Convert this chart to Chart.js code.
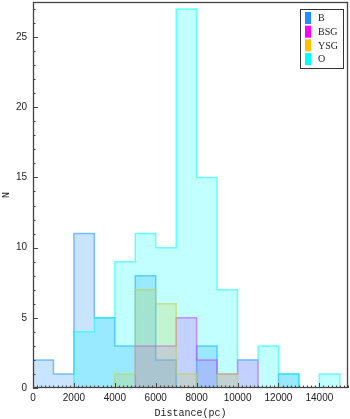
<!DOCTYPE html>
<html>
<head>
<meta charset="utf-8">
<script src="https://cdn.jsdelivr.net/npm/chart.js@4.4.1/dist/chart.umd.min.js"></script>
<style>
  html, body { margin: 0; padding: 0; background: #fff; }
  #wrap { width: 350px; height: 419px; }
</style>
</head>
<body>
<div id="wrap"><canvas id="histChart" width="350" height="419"></canvas></div>
<script>
// bin edges (pc) and counts per class
const binEdges = [0, 1000, 2000, 3000, 4000, 5000, 6000, 7000, 8000, 9000, 10000, 11000, 12000, 13000, 14000, 15000];
const countsB   = [2, 1, 11, 5, 3, 8, 2, 0, 3, 0, 0, 0, 1, 0, 0];
const countsBSG = [0, 0, 0, 0, 0, 3, 3, 5, 2, 1, 2, 0, 0, 0, 0];
const countsYSG = [0, 0, 0, 0, 1, 7, 6, 1, 0, 1, 0, 0, 0, 0, 0];
const countsO   = [0, 0, 4, 5, 9, 11, 10, 27, 15, 7, 2, 3, 1, 0, 1];
const seriesNames = ['B', 'BSG', 'YSG', 'O'];
const seriesColors = ['30,144,255', '255,0,255', '255,192,0', '0,255,255'];
const xTickLabels = [0, 2000, 4000, 6000, 8000, 10000, 12000, 14000];
const yTickLabels = [0, 5, 10, 15, 20, 25];

// turn bin counts into the outline of a step histogram
function stepPoints(counts) {
  const pts = [{ x: binEdges[0], y: 0 }];
  counts.forEach((c, i) => pts.push({ x: binEdges[i + 1], y: c }));
  pts.push({ x: binEdges[binEdges.length - 1], y: 0 });
  return pts;
}

const allCounts = [countsB, countsBSG, countsYSG, countsO];
const datasets = allCounts.map((counts, i) => ({
  label: seriesNames[i],
  data: stepPoints(counts),
  stepped: 'after',
  fill: 'origin',
  backgroundColor: `rgba(${seriesColors[i]},0.24)`,
  borderColor: `rgba(${seriesColors[i]},0.55)`,
  borderWidth: 1.5,
  pointRadius: 0,
  order: seriesNames.length - i
}));

const frameAndTicks = {
  id: 'frameAndTicks',
  afterDatasetsDraw(chart) {
    const { ctx, chartArea: a, scales: { x, y } } = chart;
    ctx.save();
    ctx.strokeStyle = '#444';
    ctx.lineWidth = 1;
    // minor / major ticks, pointing inwards
    for (let v = 0; v <= 15400; v += 200) {
      const px = Math.round(x.getPixelForValue(v)) + 0.5;
      const len = xTickLabels.includes(v) ? 5 : 2.5;
      ctx.beginPath(); ctx.moveTo(px, a.bottom); ctx.lineTo(px, a.bottom - len); ctx.stroke();
    }
    for (let v = 0; v <= 27; v += 1) {
      const py = Math.round(y.getPixelForValue(v)) + 0.5;
      const len = yTickLabels.includes(v) ? 5 : 2.5;
      ctx.beginPath(); ctx.moveTo(a.left, py); ctx.lineTo(a.left + len, py); ctx.stroke();
    }
    ctx.lineWidth = 1.3;
    ctx.strokeRect(a.left + 0.5, a.top + 0.5, a.right - a.left - 1, a.bottom - a.top - 1);

    // legend box in the upper right corner
    const bx = 300, by = 9, bw = 43, bh = 59;
    ctx.fillStyle = '#fff';
    ctx.fillRect(bx, by, bw, bh);
    ctx.lineWidth = 1;
    ctx.strokeStyle = '#333';
    ctx.strokeRect(bx + 0.5, by + 0.5, bw, bh);
    ctx.font = '10px "Liberation Serif", "DejaVu Serif", serif';
    ctx.textBaseline = 'middle';
    seriesNames.forEach((name, i) => {
      const cy = 18 + i * 13.7;
      ctx.fillStyle = `rgb(${seriesColors[i]})`;
      ctx.fillRect(305, cy - 6, 6, 12);
      ctx.fillStyle = '#222';
      ctx.fillText(name, 318, cy + 0.5);
    });
    ctx.restore();
  }
};

new Chart(document.getElementById('histChart').getContext('2d'), {
  type: 'line',
  data: { datasets },
  plugins: [frameAndTicks],
  options: {
    responsive: false,
    animation: false,
    layout: { padding: { top: 2, right: 2, left: 0, bottom: 0 } },
    plugins: { legend: { display: false }, tooltip: { enabled: false } },
    scales: {
      x: {
        type: 'linear',
        min: 0,
        max: 15400,
        grid: { display: false, drawTicks: false },
        border: { display: false },
        afterBuildTicks: s => { s.ticks = xTickLabels.map(value => ({ value })); },
        ticks: {
          autoSkip: false,
          maxRotation: 0,
          padding: 4,
          color: '#222',
          font: { family: '"Liberation Sans", Arial, sans-serif', size: 10 },
          callback: v => String(v)
        },
        title: {
          display: true,
          text: 'Distance(pc)',
          color: '#222',
          padding: { top: 0, bottom: 0 },
          font: { family: '"Liberation Mono", monospace', size: 10 }
        },
        afterFit: s => { s.height = 31; s.paddingLeft = 0; s.paddingRight = 0; }
      },
      y: {
        min: 0,
        max: 27.5,
        grid: { display: false, drawTicks: false },
        border: { display: false },
        afterBuildTicks: s => { s.ticks = yTickLabels.map(value => ({ value })); },
        ticks: {
          autoSkip: false,
          padding: 6,
          color: '#222',
          font: { family: '"Liberation Sans", Arial, sans-serif', size: 10 },
          callback: v => String(v)
        },
        title: {
          display: true,
          text: 'N',
          color: '#222',
          padding: { top: 0, bottom: 0 },
          font: { family: '"Liberation Mono", monospace', size: 10 }
        },
        afterFit: s => { s.width = 33; s.paddingTop = 0; s.paddingBottom = 0; }
      }
    }
  }
});
</script>
</body>
</html>
